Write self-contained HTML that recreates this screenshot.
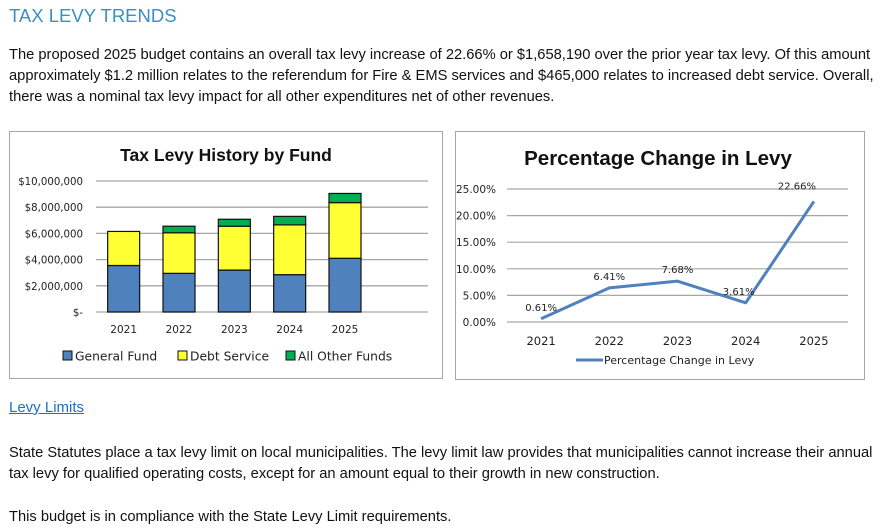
<!DOCTYPE html>
<html><head><meta charset="utf-8"><style>
body{margin:0;width:890px;height:532px;background:#fff;position:relative;overflow:hidden;font-family:"Liberation Sans",Arial,sans-serif;color:#111}
.t{position:absolute;left:9px;white-space:nowrap;font-size:14.7px;line-height:16px}
svg text{font-family:"DejaVu Sans","Liberation Sans",sans-serif}
svg text.ttl{font-family:"Liberation Sans",Arial,sans-serif}
</style></head><body>
<div class="t" style="top:6px;font-size:18.5px;line-height:20px;color:#3b8fc2">TAX LEVY TRENDS</div>
<div>
<div class="t" style="top:47px">The proposed 2025 budget contains an overall tax levy increase of 22.66% or $1,658,190 over the prior year tax levy. Of this amount</div>
<div class="t" style="top:68px">approximately $1.2 million relates to the referendum for Fire &amp; EMS services and $465,000 relates to increased debt service. Overall,</div>
<div class="t" style="top:89px">there was a nominal tax levy impact for all other expenditures net of other revenues.</div>
</div>
<svg id="c1" width="890" height="532" style="position:absolute;left:0;top:0" xmlns="http://www.w3.org/2000/svg"></svg>
<a class="t" style="top:400px;font-size:15px;color:#1a6fc4;text-decoration:underline">Levy Limits</a>
<div>
<div class="t" style="top:445px">State Statutes place a tax levy limit on local municipalities. The levy limit law provides that municipalities cannot increase their annual</div>
<div class="t" style="top:466px">tax levy for qualified operating costs, except for an amount equal to their growth in new construction.</div>
</div>
<div class="t" style="top:509px">This budget is in compliance with the State Levy Limit requirements.</div>
<script>
const years=["2021","2022","2023","2024","2025"];
const generalFund=[3.55,2.95,3.2,2.85,4.1];
const debtService=[2.6,3.1,3.35,3.8,4.25];
const otherFunds=[0,0.5,0.53,0.65,0.7];
const yTicks1=["$-","$2,000,000","$4,000,000","$6,000,000","$8,000,000","$10,000,000"];
const pctChange=[0.61,6.41,7.68,3.61,22.66];
const yTicks2=["0.00%","5.00%","10.00%","15.00%","20.00%","25.00%"];
const NS="http://www.w3.org/2000/svg";
const svg=document.getElementById('c1');
function el(t,a,txt){const e=document.createElementNS(NS,t);for(const k in a)e.setAttribute(k,a[k]);if(txt!==undefined)e.textContent=txt;svg.appendChild(e);return e;}
// chart 1
let b=el('rect',{x:9.5,y:131.5,width:433,height:247,fill:'#fff',stroke:'#a6a6a6'});


let t=el('text',{class:'ttl',x:226,y:161,'font-size':17.5,'font-weight':'bold','text-anchor':'middle',fill:'#111'},'Tax Levy History by Fund');


const x0=96,x1=428,yb=312,yt=181;
const ys=v=>yb-(v/10)*(yb-yt);
const slot=(x1-x0)/6;
yTicks1.forEach((lab,i)=>{const y=ys(i*2);
 let g=el('line',{x1:x0,x2:x1,y1:y,y2:y,stroke:'#a6a6a6','stroke-width':1.3});
 
 
 let l=el('text',{x:83,y:y+4,'font-size':10.2,'text-anchor':'end',fill:'#222'},lab);
 
 
});
years.forEach((yr,i)=>{const cx=x0+slot*(i+0.5),w=32;
 const segs=[[generalFund[i],'#4f81bd','general-fund'],[debtService[i],'#ffff33','debt-service'],[otherFunds[i],'#00b050','other-funds']];
 let acc=0;
 segs.forEach(s=>{if(s[0]<=0)return;const yTop=ys(acc+s[0]),yBot=ys(acc);
  let r=el('rect',{x:cx-w/2,y:yTop,width:w,height:yBot-yTop,fill:s[1],stroke:'#111','stroke-width':1.2});
  
  
  acc+=s[0];});
 let l=el('text',{x:cx,y:333,'font-size':10.5,'text-anchor':'middle',fill:'#222'},yr);
 
 
});
[[63,'#4f81bd','General Fund'],[178,'#ffff33','Debt Service'],[286,'#00b050','All Other Funds']].forEach(L=>{
 let r=el('rect',{x:L[0],y:351,width:9,height:9,fill:L[1],stroke:'#111','stroke-width':1});
 
 
 let tx=el('text',{x:L[0]+12,y:360.5,'font-size':12.3,fill:'#222'},L[2]);
 
 
});
// chart 2
b=el('rect',{x:455.5,y:131.5,width:409,height:248,fill:'#fff',stroke:'#a6a6a6'});


t=el('text',{class:'ttl',x:658,y:165,'font-size':20.5,'font-weight':'bold','text-anchor':'middle',fill:'#111'},'Percentage Change in Levy');


const px0=507,px1=848,pyb=322,pyt=189;
const py=v=>pyb-(v/25)*(pyb-pyt);
const pslot=(px1-px0)/5;
const px=i=>px0+pslot*(i+0.5);
yTicks2.forEach((lab,i)=>{const y=py(i*5);
 let g=el('line',{x1:px0,x2:px1,y1:y,y2:y,stroke:'#a6a6a6','stroke-width':1.2});
 
 
 let l=el('text',{x:496,y:y+4,'font-size':10.5,'text-anchor':'end',fill:'#222'},lab);
 
 
});
years.forEach((yr,i)=>{
 let l=el('text',{x:px(i),y:345,'font-size':11.5,'text-anchor':'middle',fill:'#222'},yr);
 
 
});
let line=el('polyline',{points:pctChange.map((v,i)=>px(i)+','+py(v)).join(' '),fill:'none',stroke:'#4f81bd','stroke-width':3,'stroke-linejoin':'round'});


pctChange.forEach((v,i)=>{
 let l=el('text',{x:px(i)-(i==4?17:(i==3?7:0)),y:py(v)-(i==4?12:8),'font-size':10,'text-anchor':'middle',fill:'#222'},v.toFixed(2)+'%');
 
 
});
let ll=el('line',{x1:576,x2:603,y1:360,y2:360,stroke:'#4f81bd','stroke-width':3});


let lt=el('text',{x:604,y:364,'font-size':11,fill:'#222'},'Percentage Change in Levy');


</script>
</body></html>
